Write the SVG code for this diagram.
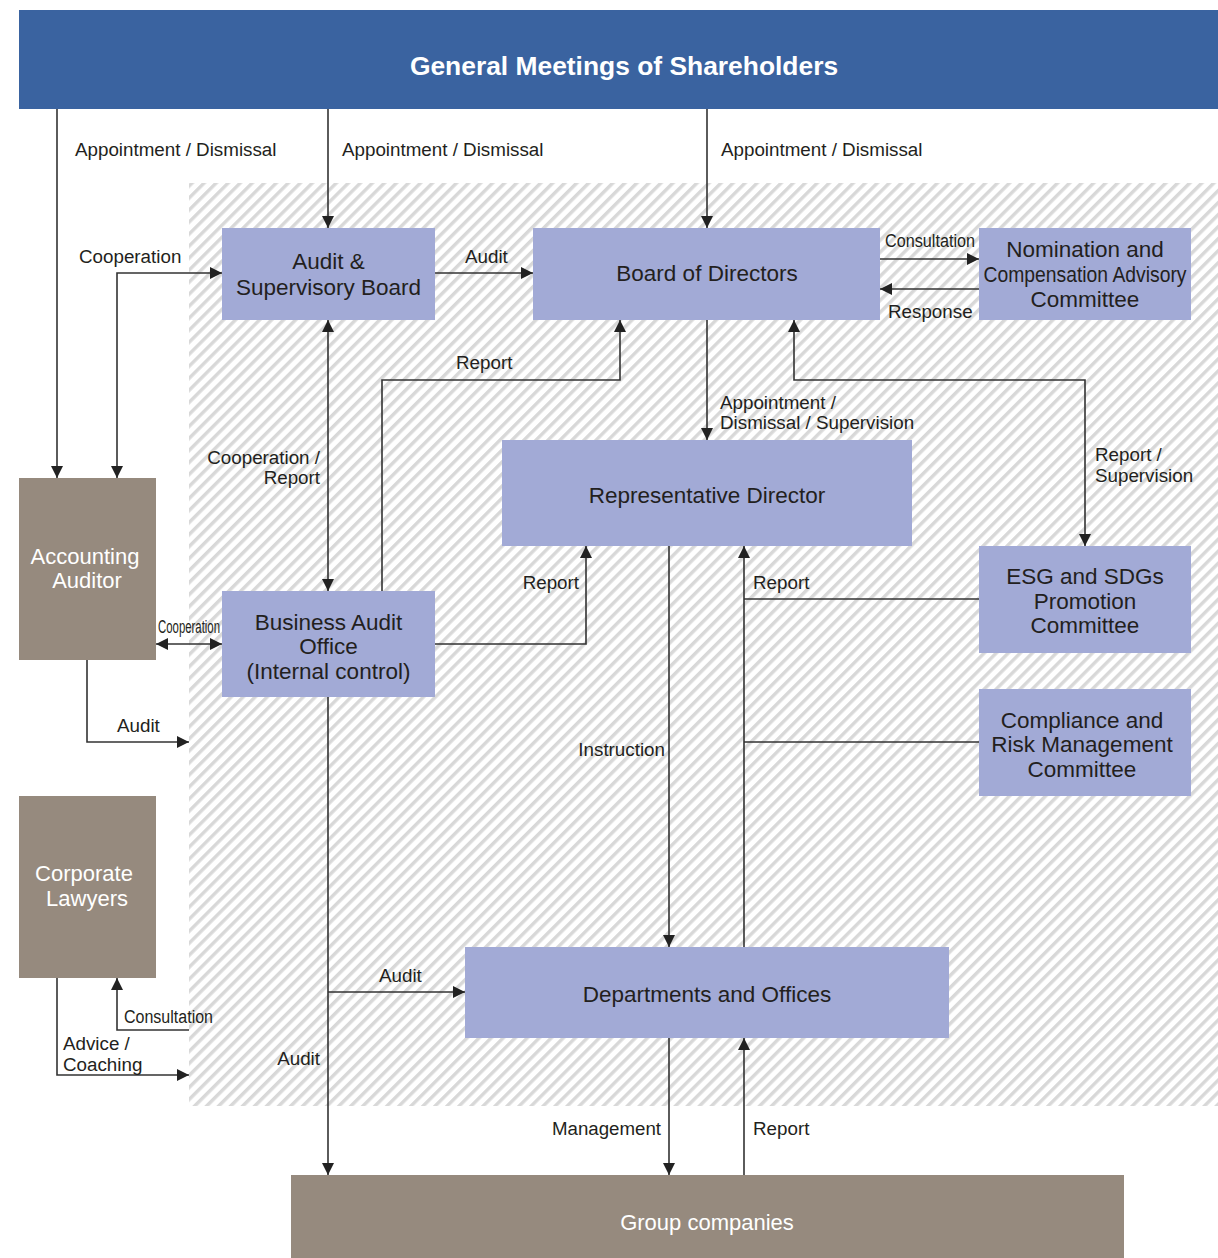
<svg xmlns="http://www.w3.org/2000/svg" width="1218" height="1258" viewBox="0 0 1218 1258">
<style>
.n{fill:#a2aad6}
.b{fill:#968a7e}
.t{font-family:"Liberation Sans",Arial,sans-serif;font-size:22.5px;fill:#231f20;text-anchor:middle}
.w{font-family:"Liberation Sans",Arial,sans-serif;font-size:22px;fill:#ffffff;text-anchor:middle}
.l{font-family:"Liberation Sans",Arial,sans-serif;font-size:18.8px;fill:#231f20}
.c{fill:none;stroke:#333;stroke-width:1.6}
</style>
<defs>
<pattern id="hatch" patternUnits="userSpaceOnUse" width="8.5" height="8.5" patternTransform="rotate(45)">
<rect x="0" y="0" width="3.4" height="8.5" fill="#d8d8d8"/>
</pattern>
<marker id="ah" markerUnits="userSpaceOnUse" markerWidth="14" markerHeight="14" refX="12" refY="6.5" orient="auto-start-reverse">
<path d="M0,0.5 L12,6.5 L0,12.5 z" fill="#222"/>
</marker>
</defs>
<rect width="1218" height="1258" fill="#ffffff"/>
<rect x="189" y="183" width="1029" height="923" fill="url(#hatch)"/>

<g id="connectors">
<line class="c" x1="57" y1="109" x2="57" y2="478" marker-end="url(#ah)"/>
<line class="c" x1="328" y1="109" x2="328" y2="228" marker-end="url(#ah)"/>
<line class="c" x1="707" y1="109" x2="707" y2="228" marker-end="url(#ah)"/>
<polyline class="c" points="117,478 117,273 222,273" marker-start="url(#ah)" marker-end="url(#ah)"/>
<line class="c" x1="435" y1="273" x2="533" y2="273" marker-end="url(#ah)"/>
<line class="c" x1="880" y1="259" x2="979" y2="259" marker-end="url(#ah)"/>
<line class="c" x1="979" y1="289" x2="880" y2="289" marker-end="url(#ah)"/>
<line class="c" x1="328" y1="320" x2="328" y2="591" marker-start="url(#ah)" marker-end="url(#ah)"/>
<polyline class="c" points="382,591 382,380 620,380 620,320" marker-end="url(#ah)"/>
<line class="c" x1="707" y1="320" x2="707" y2="440" marker-end="url(#ah)"/>
<polyline class="c" points="794,320 794,380 1085,380 1085,546" marker-start="url(#ah)" marker-end="url(#ah)"/>
<polyline class="c" points="435,644 586,644 586,546" marker-end="url(#ah)"/>
<line class="c" x1="156" y1="644" x2="222" y2="644" marker-start="url(#ah)" marker-end="url(#ah)"/>
<polyline class="c" points="87,660 87,742 189,742" marker-end="url(#ah)"/>
<line class="c" x1="669" y1="546" x2="669" y2="947" marker-end="url(#ah)"/>
<line class="c" x1="744" y1="947" x2="744" y2="546" marker-end="url(#ah)"/>
<line class="c" x1="979" y1="599" x2="744" y2="599"/>
<line class="c" x1="979" y1="742" x2="744" y2="742"/>
<line class="c" x1="328" y1="697" x2="328" y2="1175" marker-end="url(#ah)"/>
<line class="c" x1="328" y1="992" x2="465" y2="992" marker-end="url(#ah)"/>
<polyline class="c" points="57,978 57,1075 189,1075" marker-end="url(#ah)"/>
<polyline class="c" points="189,1030 117,1030 117,978" marker-end="url(#ah)"/>
<line class="c" x1="669" y1="1038" x2="669" y2="1175" marker-end="url(#ah)"/>
<line class="c" x1="744" y1="1175" x2="744" y2="1038" marker-end="url(#ah)"/>
</g>

<g id="labels">
<text class="l" x="75" y="156">Appointment / Dismissal</text>
<text class="l" x="342" y="156">Appointment / Dismissal</text>
<text class="l" x="721" y="156">Appointment / Dismissal</text>
<text class="l" x="79" y="263">Cooperation</text>
<text class="l" x="465" y="263">Audit</text>
<text class="l" x="885" y="247" font-size="17" textLength="90" lengthAdjust="spacingAndGlyphs">Consultation</text>
<text class="l" x="888" y="318">Response</text>
<text class="l" x="456" y="369">Report</text>
<text class="l" x="720" y="409">Appointment /</text>
<text class="l" x="720" y="429">Dismissal / Supervision</text>
<text class="l" x="1095" y="461">Report /</text>
<text class="l" x="1095" y="482">Supervision</text>
<text class="l" x="320" y="464" text-anchor="end">Cooperation /</text>
<text class="l" x="320" y="484" text-anchor="end">Report</text>
<text class="l" x="579" y="589" text-anchor="end">Report</text>
<text class="l" x="753" y="589">Report</text>
<text class="l" x="158" y="633" font-size="15" textLength="62" lengthAdjust="spacingAndGlyphs">Cooperation</text>
<text class="l" x="117" y="732">Audit</text>
<text class="l" x="665" y="756" text-anchor="end">Instruction</text>
<text class="l" x="379" y="982">Audit</text>
<text class="l" x="124" y="1023" font-size="17.5" textLength="89" lengthAdjust="spacingAndGlyphs">Consultation</text>
<text class="l" x="63" y="1050">Advice /</text>
<text class="l" x="63" y="1071">Coaching</text>
<text class="l" x="320" y="1065" text-anchor="end">Audit</text>
<text class="l" x="661" y="1135" text-anchor="end" textLength="109" lengthAdjust="spacingAndGlyphs">Management</text>
<text class="l" x="753" y="1135">Report</text>
</g>

<g id="shareholders">
<rect x="19" y="10" width="1199" height="99" fill="#3a63a0"/>
<text x="624" y="75" font-family="'Liberation Sans',Arial,sans-serif" font-size="26.4" font-weight="bold" fill="#ffffff" text-anchor="middle">General Meetings of Shareholders</text>
</g>

<g id="audit-supervisory-board">
<rect class="n" x="222" y="228" width="213" height="92"/>
<text class="t" x="328.5" y="269">Audit &amp;</text>
<text class="t" x="328.5" y="295">Supervisory Board</text>
</g>

<g id="board-of-directors">
<rect class="n" x="533" y="228" width="347" height="92"/>
<text class="t" x="707" y="281">Board of Directors</text>
</g>

<g id="nomination-committee">
<rect class="n" x="979" y="228" width="212" height="92"/>
<text class="t" x="1085" y="257" font-size="20">Nomination and</text>
<text class="t" x="1085" y="282" font-size="20" textLength="203" lengthAdjust="spacingAndGlyphs">Compensation Advisory</text>
<text class="t" x="1085" y="307" font-size="20">Committee</text>
</g>

<g id="representative-director">
<rect class="n" x="502" y="440" width="410" height="106"/>
<text class="t" x="707" y="503">Representative Director</text>
</g>

<g id="esg-committee">
<rect class="n" x="979" y="546" width="212" height="107"/>
<text class="t" x="1085" y="584">ESG and SDGs</text>
<text class="t" x="1085" y="609">Promotion</text>
<text class="t" x="1085" y="633">Committee</text>
</g>

<g id="compliance-committee">
<rect class="n" x="979" y="689" width="212" height="107"/>
<text class="t" x="1082" y="728">Compliance and</text>
<text class="t" x="1082" y="752">Risk Management</text>
<text class="t" x="1082" y="777">Committee</text>
</g>

<g id="business-audit-office">
<rect class="n" x="222" y="591" width="213" height="106"/>
<text class="t" x="328.5" y="630">Business Audit</text>
<text class="t" x="328.5" y="654">Office</text>
<text class="t" x="328.5" y="679">(Internal control)</text>
</g>

<g id="accounting-auditor">
<rect class="b" x="19" y="478" width="137" height="182"/>
<text class="w" x="85" y="564">Accounting</text>
<text class="w" x="87" y="588">Auditor</text>
</g>

<g id="corporate-lawyers">
<rect class="b" x="19" y="796" width="137" height="182"/>
<text class="w" x="84" y="881">Corporate</text>
<text class="w" x="87" y="906">Lawyers</text>
</g>

<g id="departments-offices">
<rect class="n" x="465" y="947" width="484" height="91"/>
<text class="t" x="707" y="1002">Departments and Offices</text>
</g>

<g id="group-companies">
<rect class="b" x="291" y="1175" width="833" height="83"/>
<text class="w" x="707" y="1230" font-size="21">Group companies</text>
</g>
</svg>
